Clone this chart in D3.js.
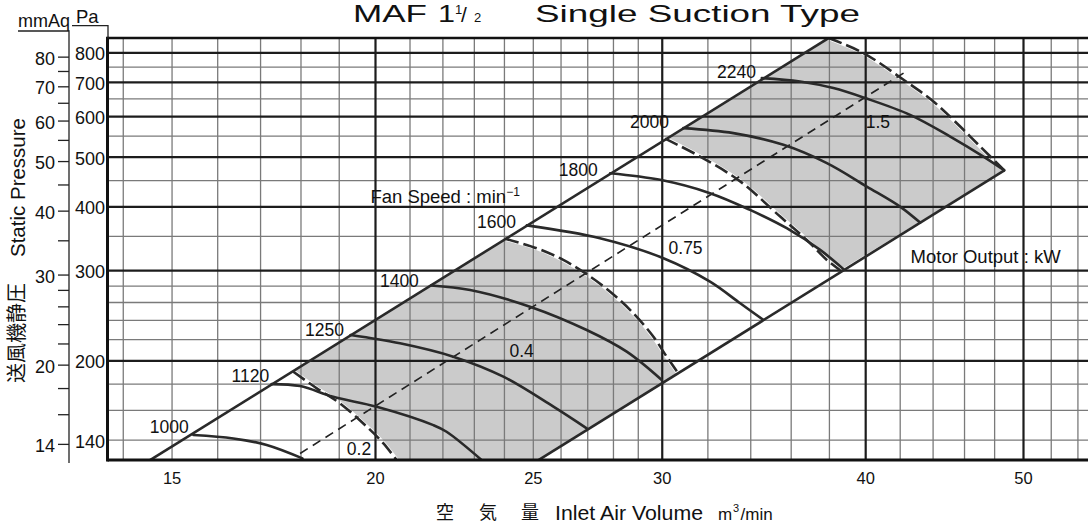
<!DOCTYPE html>
<html><head><meta charset="utf-8">
<script src="https://cdn.jsdelivr.net/npm/d3@7"></script>
<style>
html,body{margin:0;padding:0;background:#fff;}
svg{display:block;}
text{font-family:"Liberation Sans",Arial,Helvetica,sans-serif;fill:#111;}
.cjk{font-family:"Noto Sans CJK JP","Noto Sans CJK SC",sans-serif;}
</style></head><body>
<svg id="chart" width="1088" height="524"></svg>
<script>
// ---------------- data ----------------
const xTickLabels = [15, 20, 25, 30, 40, 50];
const xGridMajor = [20, 30, 40, 50];
const xGridMinor = [14,15,16,17,18,19,21,22,23,24,25,26,27,28,29,32,34,36,38,42,44,46,48,52,54];
const yPaLabels = [800, 700, 600, 500, 400, 300, 200, 140];
const yGridMajor = [800, 700, 600, 500, 400, 300, 200];
const yGridMinor = [750, 650, 550, 450, 350, 280, 260, 240, 220, 180, 160, 140];
const mmAqLabels = [80, 70, 60, 50, 40, 30, 20, 14];
const mmAqMinor = [75, 65, 55, 45, 35, 28, 26, 24, 22, 18, 16];
const PA_PER_MMAQ = 9.80665;

// system lines (Q m3/min, P Pa)
const leftLimit  = [[14.55,127.6],[37.98,853]];
const rightLimit = [[25.2,127.6],[48.7,470.3]];
const effLine    = [[17.99,131.5],[42.23,728.6]];

// fan speed curves
const speedNames = ["1000","1120","1250","1400","1600","1800","2000","2240"];
const rpm1000 = [[15.47,142.9],[16.37,140.7],[17.16,136.6],[18.05,128.6]];
const rpm1120 = [[17.28,179.7],[17.99,178.1],[18.85,169.7],[20.05,162.3],[21.72,149.4],[22.13,145.0],[23.26,127.6]];
const rpm1250 = [[19.32,224.1],[20.72,215.9],[22.34,203.3],[23.98,185.8],[25.74,162.3],[26.98,147.2]];
const rpm1400 = [[21.65,280.1],[22.88,274.5],[24.90,254.6],[26.98,229.2],[28.55,207.9],[30.0,183.0]];
const rpm1600 = [[24.79,367.1],[27.49,346.5],[30.07,316.7],[32.12,285.0],[33.52,258.5],[34.64,239.8]];
const rpm1800 = [[27.89,464.3],[29.93,450.6],[32.12,424.4],[33.99,393.6],[35.80,362.4],[37.53,328.7],[38.79,301.5]];
const rpm2000 = [[30.93,568.7],[33.2,556.0],[35.63,527.5],[37.89,485.8],[40.09,437.2],[42.02,399.5],[43.23,371.7]];
const rpm2240 = [[34.56,712.3],[36.48,701.5],[38.24,681.0],[40.0,651.0],[42.62,603.8],[45.11,547.6],[47.28,500.4],[48.7,470.3]];
const speedLabelAt = [[15.37,144.0],[17.22,181.6],[19.14,223.1],[21.28,278.6],[24.41,362.4],[27.40,458.7],[30.31,568.7],[34.28,712.3]];

// motor output limits (kW)
const kwNames = ["0.2","0.4","0.75","1.5"];
const kw02  = [[17.82,190.0],[18.42,176.3],[19.03,164.8],[19.77,148.3],[20.24,137.6],[20.62,127.6]];
const kw04  = [[24.04,345.7],[25.14,331.2],[26.10,314.2],[26.92,296.0],[27.89,272.4],[28.82,247.2],[29.65,222.4],[30.21,203.3],[30.70,188.9]];
const kw075 = [[30.14,542.4],[31.67,500.4],[33.52,447.5],[35.47,381.9],[36.83,343.8],[37.89,314.2],[38.61,300.0]];
const kw15  = [[37.98,853],[39.9,797.3],[42.23,706.9],[44.05,641.1],[45.75,572.8],[47.06,523.5],[48.7,470.3]];
const kwLabelAt = [[19.22,130.6],[24.19,203.3],[30.29,322.8],[40.03,569]];
const fanSpeedLabelAt = [19.87,405.7];
const motorLabelAt = [42.65,309.6];

// ---------------- layout ----------------
const svg = d3.select("#chart");
const L = 107.5, T = 38, B = 460, R = 1100;
const x = d3.scaleLog().domain([20, 50]).range([375, 1023]);
const y = d3.scaleLog().domain([200, 800]).range([360.3, 52.3]);
const yMm = d3.scaleLog().domain([200/PA_PER_MMAQ, 800/PA_PER_MMAQ]).range([360.3, 52.3]);

svg.append("rect").attr("width",1088).attr("height",524).attr("fill","#fff");
svg.append("defs").append("clipPath").attr("id","plot")
  .append("rect").attr("x",L).attr("y",T).attr("width",R-L).attr("height",B-T);

const plot = svg.append("g").attr("clip-path","url(#plot)");

const curve = d3.line().x(d=>x(d[0])).y(d=>y(d[1])).curve(d3.curveCatmullRom.alpha(0.5));
const straight = d3.line().x(d=>x(d[0])).y(d=>y(d[1]));
const cont = p => p.replace(/^M/,"L");

// shaded regions
const regionA = curve(kw02) + cont(straight([kw02[kw02.length-1], rightLimit[0], kw04[kw04.length-1]]))
  + cont(curve(kw04.slice().reverse())) + "Z";
const regionB = curve(kw075) + cont(straight([kw075[kw075.length-1], rightLimit[1]]))
  + cont(curve(kw15.slice().reverse())) + "Z";
plot.selectAll("path.region").data([regionA, regionB]).join("path")
  .attr("class","region").attr("d",d=>d).attr("fill","#cbcbcb").attr("stroke","none");

// white underlay of dashed limits
const kwSeries = [kw02, kw04, kw075, kw15];
plot.selectAll("path.under").data(kwSeries).join("path").attr("class","under")
  .attr("d",curve).attr("fill","none").attr("stroke","#fff").attr("stroke-width",4);

// grid via axes
function gridX(vals, col, w){
  const g = plot.append("g").attr("transform",`translate(0,${B})`)
    .call(d3.axisBottom(x).tickValues(vals).tickSize(-(B-T)).tickFormat(""));
  g.select(".domain").remove();
  g.selectAll("line").attr("stroke",col).attr("stroke-width",w);
}
function gridY(vals, col, w){
  const g = plot.append("g").attr("transform",`translate(${L},0)`)
    .call(d3.axisLeft(y).tickValues(vals).tickSize(-(R-L)).tickFormat(""));
  g.select(".domain").remove();
  g.selectAll("line").attr("stroke",col).attr("stroke-width",w);
}
gridX(xGridMinor, "#7a7a7a", 1.3);
gridY(yGridMinor, "#7a7a7a", 1.3);
gridX(xGridMajor, "#1c1c1c", 2.2);
gridY(yGridMajor, "#1c1c1c", 2.2);

// limit lines
plot.selectAll("path.limit").data([leftLimit, rightLimit]).join("path").attr("class","limit")
  .attr("d",straight).attr("fill","none").attr("stroke","#2a2a2a").attr("stroke-width",2.6);

// efficiency dashed line
plot.append("path").attr("d",straight(effLine)).attr("fill","none")
  .attr("stroke","#222").attr("stroke-width",1.6).attr("stroke-dasharray","9,6");

// fan curves
const speedSeries = [rpm1000,rpm1120,rpm1250,rpm1400,rpm1600,rpm1800,rpm2000,rpm2240];
plot.selectAll("path.speed").data(speedSeries).join("path").attr("class","speed")
  .attr("d",curve).attr("fill","none").attr("stroke","#2a2a2a").attr("stroke-width",2.6)
  .attr("stroke-linecap","round");

// kW dashed limits
plot.selectAll("path.kw").data(kwSeries).join("path").attr("class","kw")
  .attr("d",curve).attr("fill","none").attr("stroke","#2a2a2a").attr("stroke-width",2.6)
  .attr("stroke-dasharray","14,5");

// frame
svg.append("line").attr("x1",L).attr("x2",1088).attr("y1",T).attr("y2",T).attr("stroke","#111").attr("stroke-width",2.6);
svg.append("line").attr("x1",L).attr("x2",1088).attr("y1",B).attr("y2",B).attr("stroke","#111").attr("stroke-width",3);
svg.append("line").attr("x1",L).attr("x2",L).attr("y1",T-1.3).attr("y2",B+1.5).attr("stroke","#111").attr("stroke-width",3);

// labels inside plot
svg.selectAll("text.spd").data(speedNames).join("text").attr("class","spd")
  .attr("x",(d,i)=>x(speedLabelAt[i][0])).attr("y",(d,i)=>y(speedLabelAt[i][1]))
  .attr("text-anchor","end").attr("font-size",17.5).text(d=>d);
svg.selectAll("text.kwl").data(kwNames).join("text").attr("class","kwl")
  .attr("x",(d,i)=>x(kwLabelAt[i][0])).attr("y",(d,i)=>y(kwLabelAt[i][1]))
  .attr("font-size",17.5).text(d=>d);
const fs = svg.append("text").attr("x",x(fanSpeedLabelAt[0])).attr("y",y(fanSpeedLabelAt[1])).attr("font-size",18.5);
fs.append("tspan").text("Fan Speed : min");
fs.append("tspan").attr("dy",-7).attr("font-size",12).text("\u22121");
svg.append("text").attr("x",x(motorLabelAt[0])).attr("y",y(motorLabelAt[1])).attr("font-size",18.5)
  .text("Motor Output : kW");

// x tick labels
const xa = svg.append("g").attr("transform",`translate(0,${B})`)
  .call(d3.axisBottom(x).tickValues(xTickLabels).tickSize(0).tickPadding(12).tickFormat(d3.format("d")));
xa.select(".domain").remove();
xa.selectAll("text").attr("font-size",16.5).attr("fill","#111").attr("font-family","Liberation Sans, Arial, sans-serif");

// Pa axis labels
const pa = svg.append("g").attr("transform",`translate(${L-1},0)`)
  .call(d3.axisLeft(y).tickValues(yPaLabels).tickSize(0).tickPadding(1.5).tickFormat(d3.format("d")));
pa.select(".domain").remove();
pa.selectAll("text").attr("font-size",18).attr("dy","0.42em").attr("fill","#111").attr("font-family","Liberation Sans, Arial, sans-serif");

// mmAq axis
const mmx = 69;
const mm = svg.append("g").attr("transform",`translate(${mmx},0)`)
  .call(d3.axisLeft(yMm).tickValues(mmAqLabels).tickSize(11).tickPadding(3).tickFormat(d3.format("d")));
mm.select(".domain").remove();
mm.selectAll("line").attr("stroke","#222").attr("stroke-width",1.3);
mm.selectAll("text").attr("font-size",18).attr("dy","0.42em").attr("fill","#111").attr("font-family","Liberation Sans, Arial, sans-serif");
const mm2 = svg.append("g").attr("transform",`translate(${mmx},0)`)
  .call(d3.axisLeft(yMm).tickValues(mmAqMinor).tickSize(11).tickFormat(""));
mm2.select(".domain").remove();
mm2.selectAll("line").attr("stroke","#222").attr("stroke-width",1.3);
svg.append("path").attr("d",`M18,31H${mmx}V463`).attr("fill","none").attr("stroke","#222").attr("stroke-width",1.3);
svg.append("path").attr("d",`M72,25.7H${L+0.5}V${T}`).attr("fill","none").attr("stroke","#222").attr("stroke-width",1.3);
svg.append("text").attr("x",18).attr("y",26.5).attr("font-size",18).text("mmAq");
svg.append("text").attr("x",76).attr("y",22.5).attr("font-size",18.5).text("Pa");

// y title
svg.append("text").attr("class","cjk").attr("transform","translate(24,383) rotate(-90)")
  .attr("font-size",20).text("送風機静圧");
svg.append("text").attr("transform","translate(25,257) rotate(-90)")
  .attr("font-size",20.5).text("Static Pressure");

// x title
[["空",436],["気",479],["量",521]].forEach(([t,px])=>{
  svg.append("text").attr("class","cjk").attr("x",px).attr("y",518.5).attr("font-size",18).text(t);
});
svg.append("text").attr("x",555).attr("y",520).attr("font-size",19.5)
  .attr("textLength",148).attr("lengthAdjust","spacingAndGlyphs").text("Inlet Air Volume");
svg.append("text").attr("x",718).attr("y",520).attr("font-size",17).text("m");
svg.append("text").attr("x",733).attr("y",512).attr("font-size",11).text("3");
svg.append("text").attr("x",740.5).attr("y",520).attr("font-size",17).text("/min");

// title
svg.append("text").attr("x",353).attr("y",22).attr("font-size",24)
  .attr("textLength",74).attr("lengthAdjust","spacingAndGlyphs").text("MAF");
svg.append("text").attr("x",438).attr("y",22).attr("font-size",24)
  .attr("textLength",17).attr("lengthAdjust","spacingAndGlyphs").text("1");
svg.append("text").attr("x",455).attr("y",14).attr("font-size",13).text("1");
svg.append("text").attr("x",461).attr("y",22).attr("font-size",21).text("/");
svg.append("text").attr("x",474).attr("y",22).attr("font-size",13).text("2");
svg.append("text").attr("x",535).attr("y",22).attr("font-size",24)
  .attr("textLength",325).attr("lengthAdjust","spacingAndGlyphs").text("Single Suction Type");
</script>
</body></html>
